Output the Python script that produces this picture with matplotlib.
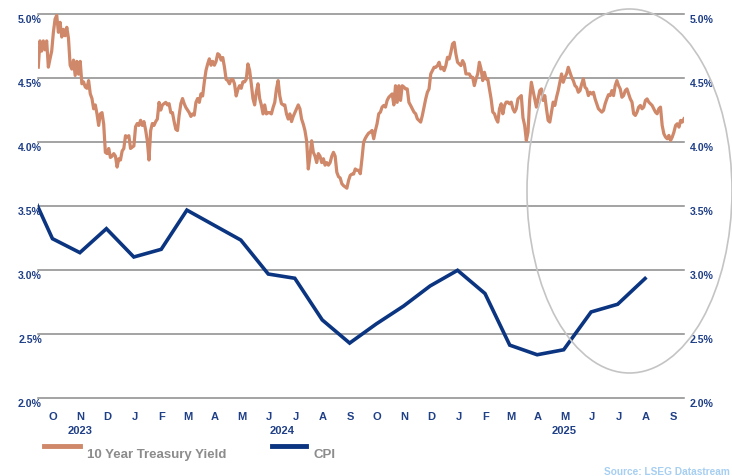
import numpy as np
import pandas as pd
import matplotlib
matplotlib.use("Agg")
import matplotlib.pyplot as plt
import matplotlib.dates as mdates
from matplotlib.patches import Ellipse
from matplotlib.lines import Line2D

plt.rcParams['font.family'] = ['Liberation Sans Narrow', 'Liberation Sans', 'DejaVu Sans']

# ---------------- data ----------------
yield_start = "2023-09-29"
yield_end = "2025-09-28"
yield_10y = [
    4.585, 4.79, 4.71, 4.79, 4.72, 4.79, 4.585, 4.65, 4.71, 4.857,
    4.96, 4.99, 4.857, 4.935, 4.82, 4.88, 4.83, 4.896, 4.81, 4.60,
    4.57, 4.64, 4.52, 4.63, 4.53, 4.63, 4.455, 4.47, 4.43, 4.42,
    4.48, 4.377, 4.34, 4.26, 4.29, 4.22, 4.13, 4.22, 4.23, 4.14,
    3.92, 3.91, 3.95, 3.88, 3.89, 3.91, 3.89, 3.805, 3.87, 3.86,
    3.93, 3.95, 4.05, 4.04, 4.05, 3.95, 3.96, 3.97, 4.12, 4.145,
    4.13, 4.17, 4.13, 4.16, 4.095, 4.01, 3.86, 4.09, 4.145, 4.13,
    4.16, 4.18, 4.31, 4.25, 4.29, 4.30, 4.31, 4.29, 4.30, 4.23,
    4.23, 4.16, 4.10, 4.09, 4.21, 4.30, 4.34, 4.30, 4.27, 4.25,
    4.23, 4.20, 4.22, 4.21, 4.31, 4.34, 4.31, 4.377, 4.36, 4.47,
    4.56, 4.61, 4.65, 4.60, 4.63, 4.60, 4.63, 4.69, 4.68, 4.64,
    4.66, 4.585, 4.49, 4.48, 4.455, 4.49, 4.49, 4.455, 4.36, 4.41,
    4.44, 4.42, 4.47, 4.47, 4.49, 4.61, 4.56, 4.455, 4.34, 4.29,
    4.39, 4.455, 4.34, 4.29, 4.22, 4.29, 4.22, 4.23, 4.23, 4.22,
    4.27, 4.31, 4.415, 4.48, 4.36, 4.30, 4.29, 4.29, 4.22, 4.18,
    4.22, 4.16, 4.20, 4.23, 4.26, 4.29, 4.26, 4.18, 4.14, 4.09,
    4.01, 3.79, 3.89, 4.01, 3.92, 3.89, 3.84, 3.91, 3.89, 3.84,
    3.87, 3.82, 3.84, 3.82, 3.84, 3.89, 3.92, 3.89, 3.765, 3.73,
    3.72, 3.675, 3.66, 3.65, 3.64, 3.70, 3.74, 3.75, 3.75, 3.79,
    3.78,
    3.78, 3.753, 3.87, 4.0, 4.03, 4.052, 4.07, 4.078, 4.091, 4.026,
    4.091, 4.143, 4.221, 4.234, 4.273, 4.286, 4.273, 4.325, 4.35, 4.363,
    4.376, 4.29, 4.44, 4.31, 4.44, 4.325, 4.44, 4.43, 4.415, 4.415,
    4.31, 4.286, 4.26, 4.234, 4.221, 4.182, 4.169, 4.156, 4.208, 4.273,
    4.337, 4.389, 4.415, 4.532, 4.558, 4.584, 4.584, 4.597, 4.623, 4.571,
    4.584, 4.558, 4.597, 4.662, 4.649, 4.701, 4.766, 4.779, 4.688, 4.623,
    4.61, 4.597, 4.636, 4.61, 4.532, 4.532, 4.532, 4.506, 4.506, 4.441,
    4.493, 4.532, 4.623, 4.571, 4.48, 4.545, 4.493, 4.493, 4.415, 4.337,
    4.234, 4.221, 4.182, 4.156, 4.26, 4.299, 4.221, 4.286, 4.312, 4.312,
    4.299, 4.312, 4.26, 4.234, 4.26, 4.337, 4.35, 4.363, 4.19, 4.13,
    4.013, 4.078, 4.33, 4.467, 4.40, 4.337, 4.273, 4.337, 4.402, 4.415,
    4.325, 4.363, 4.26, 4.169, 4.156, 4.234, 4.312, 4.286, 4.35, 4.402,
    4.467, 4.532, 4.467, 4.506, 4.532, 4.584, 4.545, 4.506, 4.48, 4.441,
    4.428, 4.389, 4.402, 4.454, 4.493, 4.428, 4.415, 4.363, 4.389, 4.376,
    4.389, 4.337, 4.299, 4.26, 4.247, 4.234, 4.247, 4.299, 4.337, 4.37,
    4.363, 4.402, 4.363, 4.441, 4.48, 4.441, 4.415, 4.35, 4.363, 4.402,
    4.415, 4.376, 4.337, 4.312, 4.221, 4.208, 4.234, 4.273, 4.286, 4.26,
    4.273, 4.325, 4.337, 4.312, 4.299, 4.286, 4.26, 4.234, 4.221, 4.26,
    4.273, 4.13, 4.065, 4.039, 4.026, 4.052, 4.013, 4.039, 4.078, 4.13,
    4.143, 4.117, 4.169, 4.156, 4.182,
]

cpi_months = pd.date_range("2023-09-01", "2025-08-01", freq="MS") + pd.Timedelta(days=14)
cpi = [3.70, 3.246, 3.137, 3.324, 3.103, 3.163, 3.469, 3.35, 3.235, 2.97,
       2.937, 2.612, 2.431, 2.58, 2.72, 2.877, 2.999, 2.818, 2.415, 2.34,
       2.379, 2.674, 2.734, 2.935]

y_ticks = [2.0, 2.5, 3.0, 3.5, 4.0, 4.5, 5.0]
month_letters = ["O", "N", "D", "J", "F", "M", "A", "M", "J", "J", "A", "S",
                 "O", "N", "D", "J", "F", "M", "A", "M", "J", "J", "A", "S"]
years = ["2023", "2024", "2025"]

# ---------------- styling ----------------
ORANGE = "#cf8869"
NAVY = "#0b3580"
LABEL = "#1f3f86"
GRID = "#8a8a8a"

fig = plt.figure(figsize=(7.32, 4.77), dpi=100)
ax = fig.add_axes([0.0523, 0.1629, 0.8821, 0.8057])

yield_dates = pd.date_range(yield_start, yield_end, periods=len(yield_10y))
ax.plot(yield_dates, yield_10y, color=ORANGE, lw=2.3, solid_joinstyle="round", zorder=3)
ax.plot(cpi_months[:len(cpi)], cpi, color=NAVY, lw=2.6, solid_joinstyle="miter", zorder=3)

x0 = pd.Timestamp(yield_start)
x1 = pd.Timestamp(yield_end)
ax.set_xlim(x0, x1)
ax.set_ylim(2.0, 5.0)

for s in ax.spines.values():
    s.set_visible(False)
for v in y_ticks:
    ax.axhline(v, color=GRID, lw=1.1, zorder=1, clip_on=False)

ax.set_yticks([])
# y labels on both sides, slightly below the gridlines
for v in y_ticks:
    ax.annotate(f"{v:.1f}%", xy=(0.0057, v), xycoords=("axes fraction", "data"),
                xytext=(0, -5), textcoords="offset pixels", ha="right", va="center",
                fontsize=7.6, fontweight="bold", color=LABEL)
    ax.annotate(f"{v:.1f}%", xy=(1.0093, v), xycoords=("axes fraction", "data"),
                xytext=(0, -5), textcoords="offset pixels", ha="left", va="center",
                fontsize=7.6, fontweight="bold", color=LABEL)

month_pos = pd.date_range("2023-10-01", "2025-09-01", freq="MS") + pd.Timedelta(days=15)
ax.set_xticks(month_pos)
ax.set_xticklabels(month_letters, fontsize=8, fontweight="bold", color=LABEL)
ax.tick_params(axis="x", length=0, pad=9)

# year labels centred on each year's visible span
year_centers = [
    x0 + (pd.Timestamp("2024-01-01") - x0) / 2,
    pd.Timestamp("2024-07-01"),
    pd.Timestamp("2025-01-01") + (x1 - pd.Timestamp("2025-01-01")) / 2,
]
for yr, c in zip(years, year_centers):
    ax.annotate(yr, xy=(mdates.date2num(c), 0), xycoords=("data", "axes fraction"),
                xytext=(0, -32), textcoords="offset pixels", ha="center", va="center",
                fontsize=8, fontweight="bold", color=LABEL)

# highlight ellipse
ell = Ellipse((629.5 / 732, 1 - 192 / 477), 205 / 732, 364 / 477,
              transform=fig.transFigure, fill=False, edgecolor="#c4c4c4", lw=1.2, zorder=5)
fig.patches.append(ell)

# legend
fig.add_artist(Line2D([44 / 732, 80 / 732], [1 - 447 / 477] * 2, color=ORANGE, lw=3.5,
                      transform=fig.transFigure))
fig.text(87 / 732, 1 - 455 / 477, "10 Year Treasury Yield", fontsize=9.5,
         fontweight="bold", color="#8c8c8c", ha="left", va="center")
fig.add_artist(Line2D([272 / 732, 306 / 732], [1 - 447 / 477] * 2, color=NAVY, lw=3.5,
                      transform=fig.transFigure))
fig.text(313 / 732, 1 - 455 / 477, "CPI", fontsize=9.5,
         fontweight="bold", color="#8c8c8c", ha="left", va="center")

fig.text(730 / 732, 1 - 472 / 477, "Source: LSEG Datastream", fontsize=7.3,
         fontweight="bold", color="#a6cff2", ha="right", va="center")

fig.savefig("out.png", dpi=100)
